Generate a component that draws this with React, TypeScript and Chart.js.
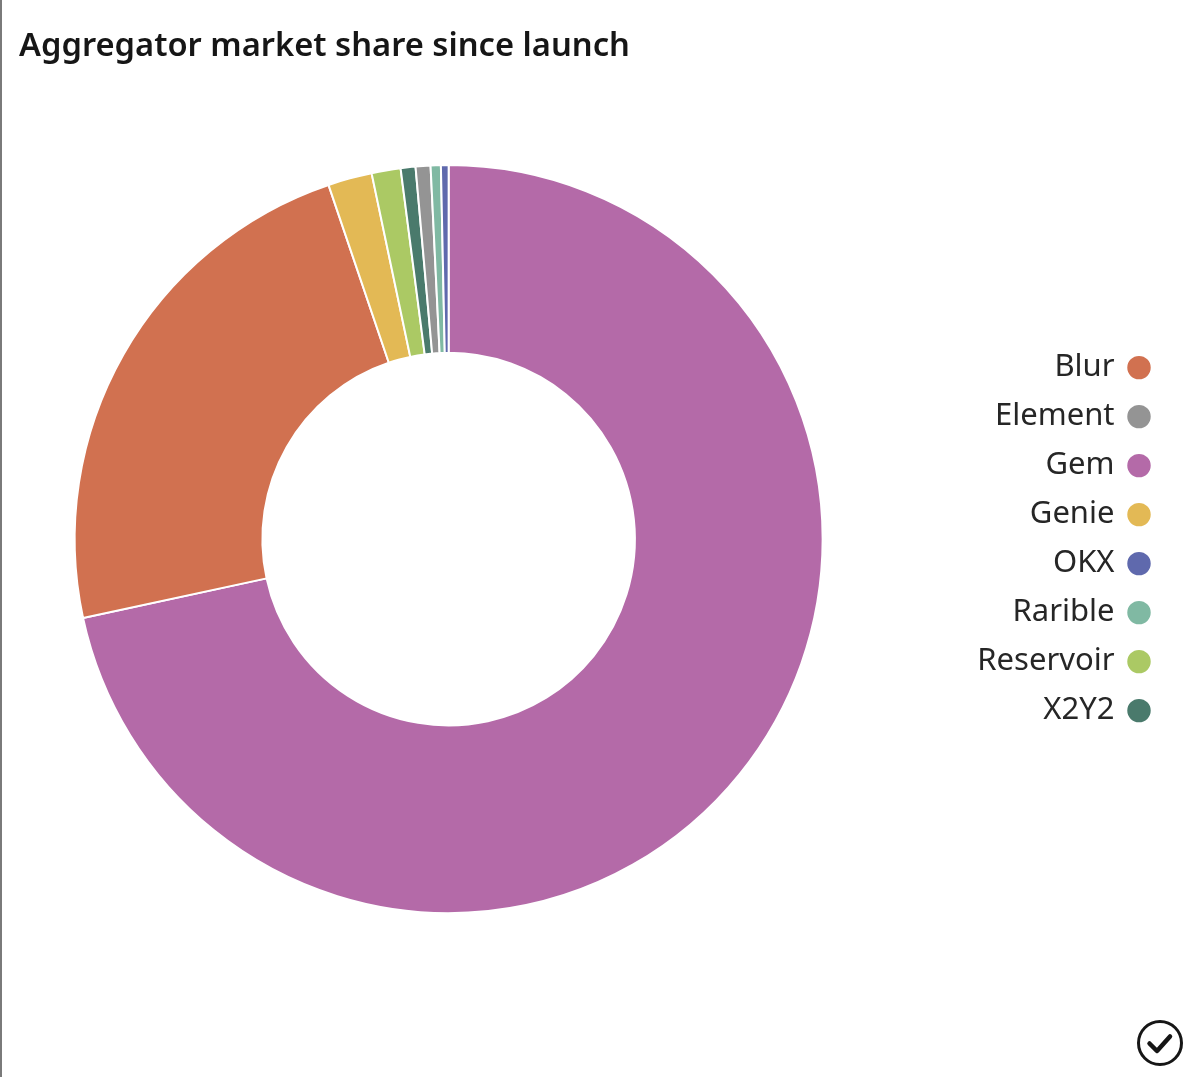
import { useEffect, useRef } from "react";
import { Chart, registerables, layouts } from "chart.js";

Chart.register(...registerables);

// slice order, clockwise from 12 o'clock
const categories = ["Gem", "Blur", "Genie", "Reservoir", "X2Y2", "Element", "Rarible", "OKX"];
const shares = [71.55, 23.15, 1.9, 1.25, 0.64, 0.64, 0.44, 0.33];
const colors = ["#b46aa8", "#d17150", "#e3b955", "#abc964", "#4a7a6c", "#949494", "#80b9a3", "#5f69ad"];

const FONT = "'Noto Sans', sans-serif";

// empty box between the chart area and the legend, keeps the doughnut left of centre
const legendGap = {
  id: "legendGap",
  beforeLayout(chart: any) {
    if (chart.boxes.some((b: any) => b.isGap)) return;
    layouts.addBox(chart, {
      isGap: true,
      options: {},
      position: "right",
      weight: 0,
      fullSize: false,
      width: 0,
      height: 0,
      isHorizontal: () => false,
      update(this: any, _w: number, h: number) {
        this.width = 89;
        this.height = h;
      },
      draw() {},
    } as any);
  },
};

export default function App() {
  const chartRef = useRef<HTMLCanvasElement>(null);

  useEffect(() => {
    document.body.style.margin = "0";
    if (!chartRef.current) return;
    const chart = new Chart(chartRef.current, {
      type: "doughnut",
      data: {
        labels: categories,
        datasets: [
          {
            data: shares,
            backgroundColor: colors,
            borderColor: "#ffffff",
            borderWidth: 2,
            radius: 374,
          },
        ],
      },
      options: {
        responsive: false,
        animation: false,
        cutout: "49.8%",
        layout: { padding: { left: 19, right: 34, top: 0, bottom: 65 } },
        plugins: {
          title: {
            display: true,
            text: "Aggregator market share since launch",
            align: "start",
            color: "#161616",
            font: { family: FONT, size: 32.7, weight: 600 },
            padding: { top: 27, bottom: 0 },
          },
          legend: {
            position: "right",
            fullSize: false,
            rtl: true,
            labels: {
              usePointStyle: true,
              pointStyle: "circle",
              boxWidth: 18,
              boxHeight: 18,
              padding: 18,
              color: "#262626",
              font: { family: FONT, size: 31 },
              sort: (a: any, b: any) => a.text.localeCompare(b.text),
            },
          },
          tooltip: { enabled: false },
        },
      },
      plugins: [legendGap],
    });
    return () => chart.destroy();
  }, []);

  return (
    <div style={{ position: "absolute", left: 0, top: 0, width: 1200, height: 1077, background: "#fff", overflow: "hidden" }}>
      <canvas ref={chartRef} width={1200} height={1077} style={{ display: "block" }} />
      <div style={{ position: "absolute", left: 0, top: 0, width: 2, height: 1077, background: "#7a7a7a" }} />
      <svg width={48} height={48} viewBox="0 0 48 48" style={{ position: "absolute", left: 1136, top: 1019 }}>
        <circle cx={24} cy={24} r={21.5} fill="none" stroke="#161616" strokeWidth={3} />
        <path d="M13.5 24.5 L21 32 L34 17.5" fill="none" stroke="#161616" strokeWidth={4.5} strokeLinecap="round" strokeLinejoin="round" />
      </svg>
    </div>
  );
}
